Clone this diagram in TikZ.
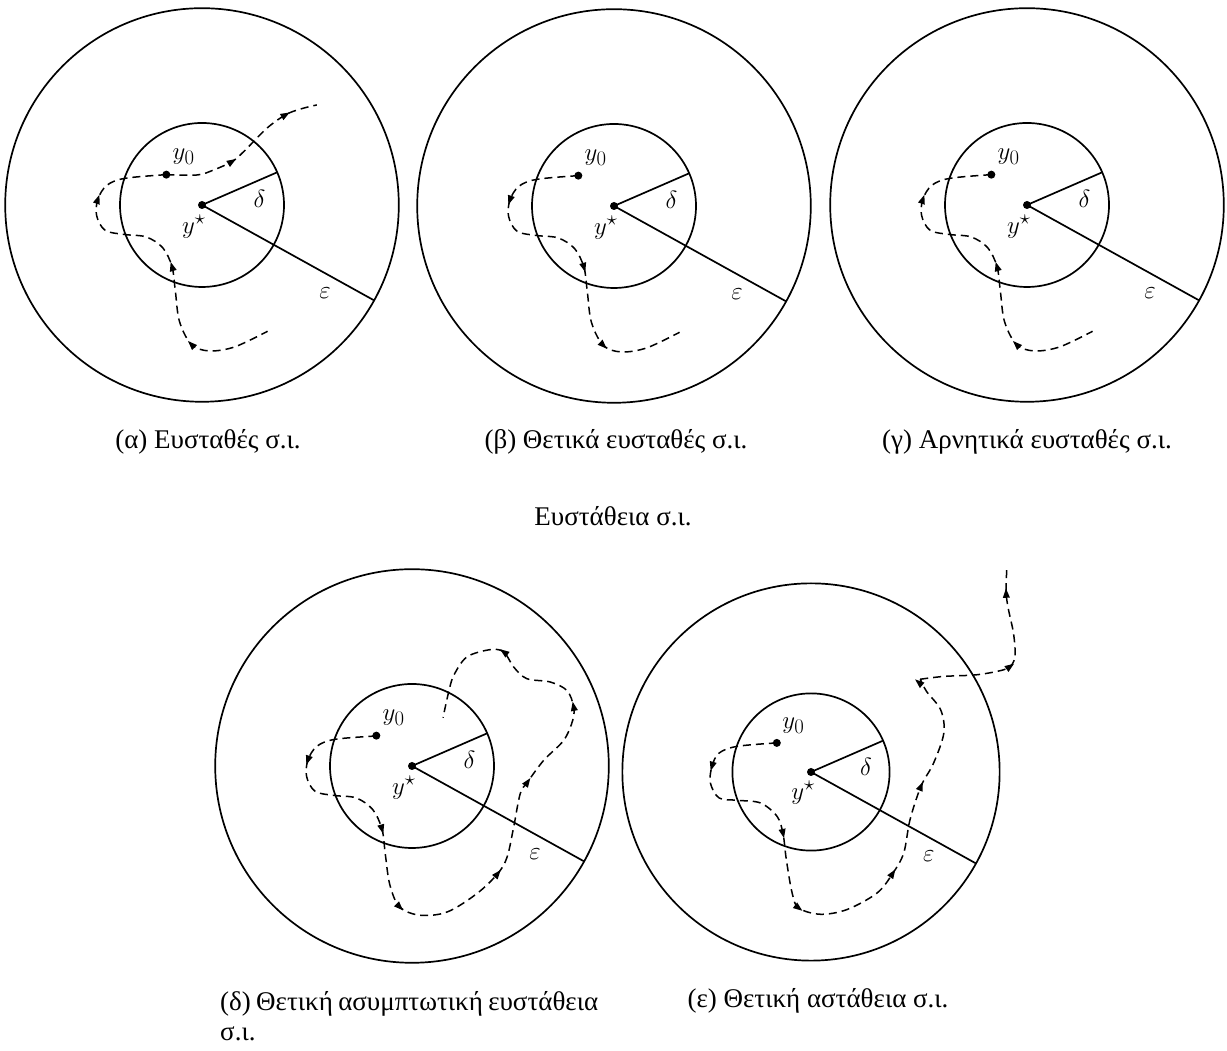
\documentclass[tikz,border=0pt]{standalone}
\usepackage[no-math]{fontspec}
\newfontfamily\capfont{Liberation Serif}
\tikzset{
  circ/.style={line width=1.7pt},
  traj/.style={line width=1.5pt, dash pattern=on 8pt off 5pt},
  lbl/.style={inner sep=0pt, font=\fontsize{24.88}{30}\selectfont},
  captxt/.style={inner sep=0pt, font=\capfont\fontsize{27}{32}\selectfont},
}
% arrow tip at point #1 pointing at angle #2
\newcommand{\tipat}[2]{\fill[shift={(#1)}] ({#2}:4.6pt) -- ({#2+142}:5.8pt) -- ({#2-142}:5.8pt) -- cycle;}
% common drawing of one panel, #1 = name prefix
\newcommand{\basepanel}[1]{%
  \node[circle, inner sep=0pt, minimum size=0pt] (#1c) at (0,0) {};
  \draw[circ] (#1c.center) circle[radius=1];
  \draw[circ] (#1c.center) circle[radius=2.4];
  \coordinate (#1d) at (23.5:1);
  \coordinate (#1e) at (-29:2.4);
  \draw[circ] (#1c.center) -- (#1d);
  \draw[circ] (#1c.center) -- (#1e);
  \node[lbl] (#1ys) at (-0.10,-0.26) {$y^\star$};
  \node[lbl] (#1dl) at (0.70,0.07) {$\delta$};
  \node[lbl] (#1el) at (1.50,-1.077) {$\varepsilon$};
  \node[lbl] (#1yl) at (-0.224,0.59) {$y_0$};
}
\newcommand{\mydots}[1]{%
  \fill (#1c.center) circle[radius=4pt];
  \fill (-0.435,0.37) circle[radius=4pt];
}
\begin{document}
\begin{tikzpicture}[x=1pt,y=1pt]
\useasboundingbox (0,0) rectangle (1227,1051);

% ---------- (a) ----------
\begin{scope}[shift={(202pt,846pt)}, x=82pt, y=82pt]
  \basepanel{a}
  \draw[traj] plot[smooth, tension=0.55] coordinates {(-0.435,0.37) (-0.94,0.325) (-1.16,0.24) (-1.27,0.07) (-1.285,-0.13) (-1.18,-0.31) (-0.94,-0.36) (-0.68,-0.39) (-0.48,-0.52) (-0.366,-0.75) (-0.325,-1.05) (-0.275,-1.42) (-0.13,-1.70) (0.09,-1.78) (0.40,-1.73) (0.80,-1.54)};
  \draw[traj] plot[smooth, tension=0.55] coordinates {(-0.435,0.37) (-0.06,0.366) (0.142,0.427) (0.366,0.53) (0.508,0.65) (0.79,0.935) (1.02,1.10) (1.2,1.17) (1.40,1.22)};
  \tipat{-1.27,0.07}{71.3}
  \tipat{-0.366,-0.75}{106.3}
  \tipat{-0.13,-1.70}{135.4}
  \tipat{0.366,0.53}{31.4}
  \tipat{1.02,1.10}{29.8}
  \mydots{a}
\end{scope}

% ---------- (b) ----------
\begin{scope}[shift={(614pt,845pt)}, x=82pt, y=82pt]
  \basepanel{b}
  \draw[traj] plot[smooth, tension=0.55] coordinates {(-0.435,0.37) (-0.94,0.325) (-1.16,0.24) (-1.27,0.07) (-1.285,-0.13) (-1.18,-0.31) (-0.94,-0.36) (-0.68,-0.39) (-0.48,-0.52) (-0.366,-0.75) (-0.325,-1.05) (-0.275,-1.42) (-0.13,-1.70) (0.09,-1.78) (0.40,-1.73) (0.80,-1.54)};
  \tipat{-1.27,0.07}{-108.7}
  \tipat{-0.366,-0.75}{-73.7}
  \tipat{-0.13,-1.70}{-44.6}
  \mydots{b}
\end{scope}

% ---------- (c) ----------
\begin{scope}[shift={(1027pt,846pt)}, x=82pt, y=82pt]
  \basepanel{c}
  \draw[traj] plot[smooth, tension=0.55] coordinates {(-0.435,0.37) (-0.94,0.325) (-1.16,0.24) (-1.27,0.07) (-1.285,-0.13) (-1.18,-0.31) (-0.94,-0.36) (-0.68,-0.39) (-0.48,-0.52) (-0.366,-0.75) (-0.325,-1.05) (-0.275,-1.42) (-0.13,-1.70) (0.09,-1.78) (0.40,-1.73) (0.80,-1.54)};
  \tipat{-1.27,0.07}{71.3}
  \tipat{-0.366,-0.75}{106.3}
  \tipat{-0.13,-1.70}{135.4}
  \mydots{c}
\end{scope}

% ---------- (delta) ----------
\begin{scope}[shift={(412pt,285pt)}, x=82pt, y=82pt]
  \basepanel{d}
  \draw[traj] plot[smooth, tension=0.55] coordinates {(-0.435,0.366) (-0.94,0.325) (-1.16,0.24) (-1.27,0.07) (-1.285,-0.13) (-1.18,-0.31) (-0.94,-0.36) (-0.68,-0.39) (-0.48,-0.53) (-0.366,-0.77) (-0.325,-1.08) (-0.27,-1.45) (-0.15,-1.72) (0.10,-1.82) (0.43,-1.78) (0.79,-1.557) (1.045,-1.313) (1.16,-1.11) (1.24,-0.744) (1.32,-0.337) (1.41,-0.195) (1.606,0.069) (1.85,0.313) (1.96,0.557) (1.97,0.728) (1.89,0.92) (1.687,1.024) (1.40,1.065) (1.24,1.207) (1.12,1.39) (0.955,1.419) (0.67,1.33) (0.51,1.106) (0.447,0.902) (0.378,0.589)};
  \tipat{-1.27,0.07}{-108.7}
  \tipat{-0.366,-0.77}{-74.3}
  \tipat{-0.15,-1.72}{-45}
  \tipat{1.045,-1.313}{50.4}
  \tipat{1.41,-0.195}{54.8}
  \tipat{1.97,0.728}{100.9}
  \tipat{1.12,1.39}{143.4}
  \mydots{d}
\end{scope}

% ---------- (epsilon) ----------
\begin{scope}[shift={(811pt,279pt)}, x=78.6pt, y=78.6pt]
  \basepanel{e}
  \draw[traj] plot[smooth, tension=0.55] coordinates {(-0.435,0.37) (-0.94,0.326) (-1.17,0.24) (-1.26,0.072) (-1.28,-0.14) (-1.17,-0.33) (-0.94,-0.36) (-0.644,-0.394) (-0.432,-0.564) (-0.356,-0.784) (-0.314,-1.114) (-0.24,-1.54) (-0.157,-1.73) (0.119,-1.81) (0.458,-1.75) (0.84,-1.54) (1.04,-1.29) (1.18,-1.03) (1.26,-0.606) (1.40,-0.18) (1.56,0.114) (1.69,0.496) (1.65,0.79) (1.47,1.025) (1.39,1.18)};
  \draw[traj] plot[smooth, tension=0.55] coordinates {(1.39,1.18) (1.69,1.216) (2.11,1.237) (2.449,1.30) (2.56,1.37) (2.597,1.50) (2.576,1.767) (2.513,2.064) (2.483,2.275) (2.49,2.57)};
  \tipat{-1.26,0.072}{-106}
  \tipat{-0.356,-0.784}{-77.9}
  \tipat{-0.157,-1.73}{-37}
  \tipat{1.04,-1.29}{56.3}
  \tipat{1.40,-0.18}{67.4}
  \tipat{1.37,1.14}{140}
  \tipat{2.534,1.343}{35}
  \tipat{2.483,2.275}{92.6}
  \mydots{e}
\end{scope}

% ---------- captions ----------
\node[captxt, anchor=base] (capa) at (208,602) {(α) Ευσταθές σ.ι.};
\node[captxt, anchor=base] (capb) at (616,602) {(β) Θετικά ευσταθές σ.ι.};
\node[captxt, anchor=base] (capc) at (1027,602) {(γ) Αρνητικά ευσταθές σ.ι.};
\node[captxt, anchor=base] (head) at (613,525) {Ευστάθεια σ.ι.};
\node[captxt, anchor=base west] (capd1) at (220,40) {\makebox[378pt][s]{(δ) Θετική ασυμπτωτική ευστάθεια}};
\node[captxt, anchor=base west] (capd2) at (220,10) {σ.ι.};
\node[captxt, anchor=base] (cape) at (818,43) {(ε) Θετική αστάθεια σ.ι.};
\end{tikzpicture}
\end{document}
